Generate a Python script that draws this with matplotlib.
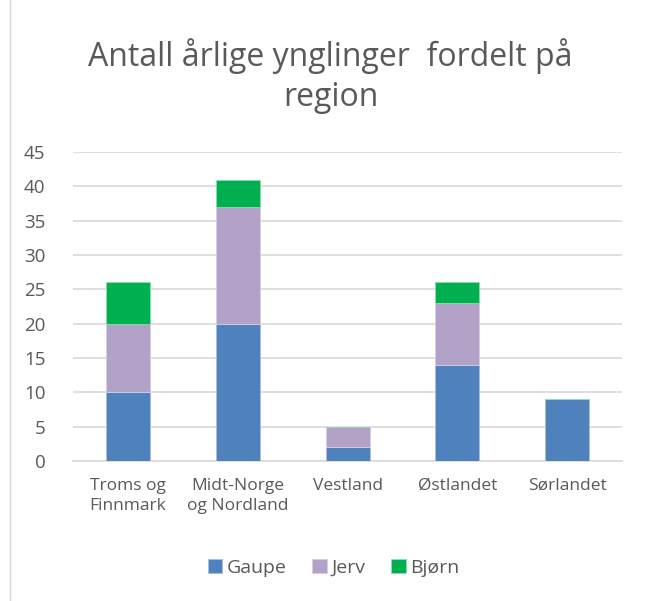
import numpy as np
import matplotlib.pyplot as plt
from matplotlib.patches import Rectangle

plt.rcParams['font.family'] = ['Open Sans', 'DejaVu Sans']

regions = ['Troms og\nFinnmark', 'Midt-Norge\nog Nordland', 'Vestland', 'Østlandet', 'Sørlandet']
gaupe = [10, 20, 2, 14, 9]
jerv = [10, 17, 3, 9, 0]
bjorn = [6, 4, 0, 3, 0]

fig = plt.figure(figsize=(6.48, 6.01), dpi=100, facecolor='white')
fig.patches.append(Rectangle((0.016, -0.01), 1.0, 1.02, transform=fig.transFigure,
                             fill=False, edgecolor='#D9D9D9', linewidth=1))
ax = fig.add_axes([0.113, 0.233, 0.847, 0.514])

x = np.arange(len(regions))
w = 0.4
g = np.array(gaupe)
j = np.array(jerv)
b = np.array(bjorn)
ax.bar(x, g, w, color='#4F81BD', edgecolor='#A7C0E0', linewidth=0.6, label='Gaupe', zorder=3)
ax.bar(x, j, w, bottom=g, color='#B3A2C7', edgecolor='#D8CCE4', linewidth=0.6, label='Jerv', zorder=3)
ax.bar(x, b, w, bottom=g + j, color='#00B050', edgecolor='#8BDDAE', linewidth=0.6, label='Bjørn', zorder=3)

ax.set_xlim(-0.5, len(regions) - 0.5)
ax.set_ylim(0, 45)
ax.set_yticks(range(0, 46, 5))
ax.yaxis.grid(True, color='#D9D9D9', linewidth=1.2)
ax.set_axisbelow(True)
for s in ['top', 'right', 'left']:
    ax.spines[s].set_visible(False)
ax.spines['bottom'].set_color('#D9D9D9')
ax.spines['bottom'].set_linewidth(1.2)
ax.tick_params(axis='both', length=0, colors='#595959', labelsize=13.5)
ax.tick_params(axis='y', pad=20)
ax.tick_params(axis='x', pad=12)
ax.set_xticks(x)
ax.set_xticklabels(regions, fontsize=12.5, linespacing=1.4)

fig.text(0.51, 0.873, 'Antall årlige ynglinger  fordelt på\nregion', ha='center', va='center',
         fontsize=23, color='#595959', linespacing=1.3)

fig.legend(loc='center', bbox_to_anchor=(0.515, 0.055), ncol=3, frameon=False,
           fontsize=14, handlelength=0.75, handleheight=0.75, handletextpad=0.25,
           columnspacing=1.3, labelcolor='#595959')

plt.savefig('out.png', dpi=100)
